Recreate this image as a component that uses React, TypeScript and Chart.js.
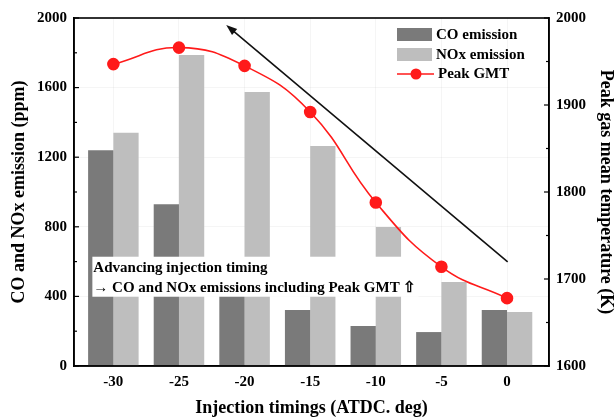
import React, { useEffect, useRef } from 'react';
import { Chart, registerables } from 'chart.js';

Chart.register(...registerables);

const categories = [-30, -25, -20, -15, -10, -5, 0];
const coEmission = [1240, 930, 550, 322, 230, 195, 322];
const noxEmission = [1340, 1787, 1575, 1264, 799, 483, 310];
const peakGmt = [1947, 1966, 1945, 1892, 1788, 1714, 1678];
const leftTicks = [0, 400, 800, 1200, 1600, 2000];
const leftMinorTicks = [200, 600, 1000, 1400, 1800];
const rightTicks = [1600, 1700, 1800, 1900, 2000];
const rightMinorTicks = [1650, 1750, 1850, 1950];
const seriesNames = ['CO emission', 'NOx emission', 'Peak GMT'];
const noteLines = ['Advancing injection timing', '\u2192 CO and NOx emissions including Peak GMT \u21E7'];
const xTitle = 'Injection timings (ATDC. deg)';
const yTitle = 'CO and NOx emission (ppm)';
const y2Title = 'Peak gas mean temperature (K)';
// annotation anchors in data units
const noteAnchor = { x: -31.6, y: 628 };
const arrowFrom = { x: 0.05, y: 598 };
const arrowTo = { x: -21.4, y: 1960 };

const SERIF = '"Liberation Serif", "Times New Roman", serif';
const CO_COLOR = '#7a7a7a';
const NOX_COLOR = '#bebebe';
const RED = '#ff1a1a';

const overlay = {
  id: 'overlay',
  afterDatasetsDraw(chart: any) {
    const { ctx, chartArea: a, scales } = chart;
    const x = scales.x, y = scales.y, y2 = scales.y2;
    ctx.save();

    // inward minor/major ticks
    ctx.strokeStyle = '#000';
    ctx.lineWidth = 1.2;
    const tick = (x0: number, y0: number, x1: number, y1: number) => {
      ctx.beginPath(); ctx.moveTo(x0, y0); ctx.lineTo(x1, y1); ctx.stroke();
    };
    leftTicks.forEach(v => { const py = y.getPixelForValue(v); tick(a.left, py, a.left + 5, py); });
    leftMinorTicks.forEach(v => { const py = y.getPixelForValue(v); tick(a.left, py, a.left + 3, py); });
    rightTicks.forEach(v => { const py = y2.getPixelForValue(v); tick(a.right, py, a.right - 5, py); });
    rightMinorTicks.forEach(v => { const py = y2.getPixelForValue(v); tick(a.right, py, a.right - 3, py); });

    // frame
    ctx.lineWidth = 1.6;
    ctx.strokeRect(a.left, a.top, a.right - a.left, a.bottom - a.top);

    // note box
    ctx.font = `bold 15px ${SERIF}`;
    const bx = x.getPixelForValue(noteAnchor.x);
    const by = y.getPixelForValue(noteAnchor.y);
    const w = Math.max(...noteLines.map(l => ctx.measureText(l).width)) + 3;
    ctx.fillStyle = '#ffffff';
    ctx.fillRect(bx, by, w, 40);
    ctx.fillStyle = '#000';
    ctx.textAlign = 'left';
    ctx.textBaseline = 'middle';
    ctx.fillText(noteLines[0], bx + 1, by + 11);
    ctx.fillText(noteLines[1], bx + 1, by + 31);

    // arrow
    const ax0 = x.getPixelForValue(arrowFrom.x), ay0 = y.getPixelForValue(arrowFrom.y);
    const ax1 = x.getPixelForValue(arrowTo.x), ay1 = y.getPixelForValue(arrowTo.y);
    const ang = Math.atan2(ay1 - ay0, ax1 - ax0);
    ctx.strokeStyle = '#111';
    ctx.lineWidth = 1.6;
    ctx.beginPath(); ctx.moveTo(ax0, ay0);
    ctx.lineTo(ax1 - 6 * Math.cos(ang), ay1 - 6 * Math.sin(ang)); ctx.stroke();
    ctx.fillStyle = '#111';
    ctx.beginPath();
    ctx.moveTo(ax1, ay1);
    ctx.lineTo(ax1 - 11 * Math.cos(ang) + 4 * Math.sin(ang), ay1 - 11 * Math.sin(ang) - 4 * Math.cos(ang));
    ctx.lineTo(ax1 - 11 * Math.cos(ang) - 4 * Math.sin(ang), ay1 - 11 * Math.sin(ang) + 4 * Math.cos(ang));
    ctx.closePath(); ctx.fill();

    // legend
    const lx = a.right - 152;
    const ly = a.top + 10;
    ctx.font = `bold 15px ${SERIF}`;
    ctx.fillStyle = CO_COLOR; ctx.fillRect(lx, ly, 35, 13);
    ctx.fillStyle = NOX_COLOR; ctx.fillRect(lx, ly + 20, 35, 13);
    ctx.strokeStyle = RED; ctx.lineWidth = 1.6;
    ctx.beginPath(); ctx.moveTo(lx, ly + 46); ctx.lineTo(lx + 37, ly + 46); ctx.stroke();
    ctx.fillStyle = RED;
    ctx.beginPath(); ctx.arc(lx + 19, ly + 46, 5.5, 0, Math.PI * 2); ctx.fill();
    ctx.fillStyle = '#000';
    ctx.fillText(seriesNames[0], lx + 39, ly + 7);
    ctx.fillText(seriesNames[1], lx + 39, ly + 27);
    ctx.fillText(seriesNames[2], lx + 41, ly + 46);

    ctx.restore();
  },
};

export default function App() {
  const ref = useRef<HTMLCanvasElement>(null);
  useEffect(() => {
    if (!ref.current) return;
    const tickFont = { family: SERIF, size: 15, weight: 'bold' as const };
    const titleFont = { family: SERIF, size: 18, weight: 'bold' as const };
    const plain = (v: any) => String(v);
    const chart = new Chart(ref.current, {
      type: 'bar',
      data: {
        labels: categories,
        datasets: [
          {
            type: 'line' as const,
            label: seriesNames[2],
            data: peakGmt,
            yAxisID: 'y2',
            borderColor: RED,
            backgroundColor: RED,
            borderWidth: 1.6,
            pointRadius: 5.5,
            pointBackgroundColor: RED,
            pointBorderColor: RED,
            tension: 0.45,
            order: 0,
          },
          {
            label: seriesNames[0],
            data: coEmission,
            yAxisID: 'y',
            backgroundColor: CO_COLOR,
            barPercentage: 1,
            categoryPercentage: 0.77,
            order: 1,
          },
          {
            label: seriesNames[1],
            data: noxEmission,
            yAxisID: 'y',
            backgroundColor: NOX_COLOR,
            barPercentage: 1,
            categoryPercentage: 0.77,
            order: 2,
          },
        ] as any,
      },
      options: {
        responsive: false,
        animation: false,
        layout: { padding: { top: 18, left: 0, right: 0, bottom: 0 } },
        plugins: { legend: { display: false }, tooltip: { enabled: false } },
        scales: {
          x: {
            type: 'linear',
            min: -33,
            max: 3.2,
            offset: false,
            grid: { offset: false, color: 'rgba(0,0,0,0.04)', drawTicks: false },
            border: { color: '#000', width: 1.6 },
            afterBuildTicks: (axis: any) => { axis.ticks = categories.map(v => ({ value: v })); },
            afterFit: (s: any) => { s.height = 53; },
            ticks: { font: tickFont, color: '#000', padding: 7, callback: plain, maxRotation: 0 },
            title: { display: true, text: xTitle, font: titleFont, color: '#000', padding: { top: 0, bottom: 0 } },
          },
          y: {
            position: 'left',
            min: 0,
            max: 2000,
            grid: { color: 'rgba(0,0,0,0.04)', drawTicks: false },
            border: { color: '#000', width: 1.6 },
            afterBuildTicks: (axis: any) => { axis.ticks = leftTicks.map(v => ({ value: v })); },
            afterFit: (s: any) => { s.width = 74; },
            ticks: { font: tickFont, color: '#000', padding: 7, callback: plain },
            title: { display: true, text: yTitle, font: titleFont, color: '#000', padding: { top: 9, bottom: 0 } },
          },
          y2: {
            position: 'right',
            min: 1600,
            max: 2000,
            grid: { drawOnChartArea: false, drawTicks: false },
            border: { color: '#000', width: 1.6 },
            afterBuildTicks: (axis: any) => { axis.ticks = rightTicks.map(v => ({ value: v })); },
            afterFit: (s: any) => { s.width = 67; },
            ticks: { font: tickFont, color: '#000', padding: 7, callback: plain },
            title: { display: true, text: y2Title, font: titleFont, color: '#000', padding: { top: 0, bottom: 0 } },
          },
        },
      } as any,
      plugins: [overlay],
    });
    return () => chart.destroy();
  }, []);
  return (
    <div style={{ position: 'fixed', left: 0, top: 0, width: 616, height: 419, background: '#fff' }}>
      <canvas ref={ref} width={616} height={419} />
    </div>
  );
}
